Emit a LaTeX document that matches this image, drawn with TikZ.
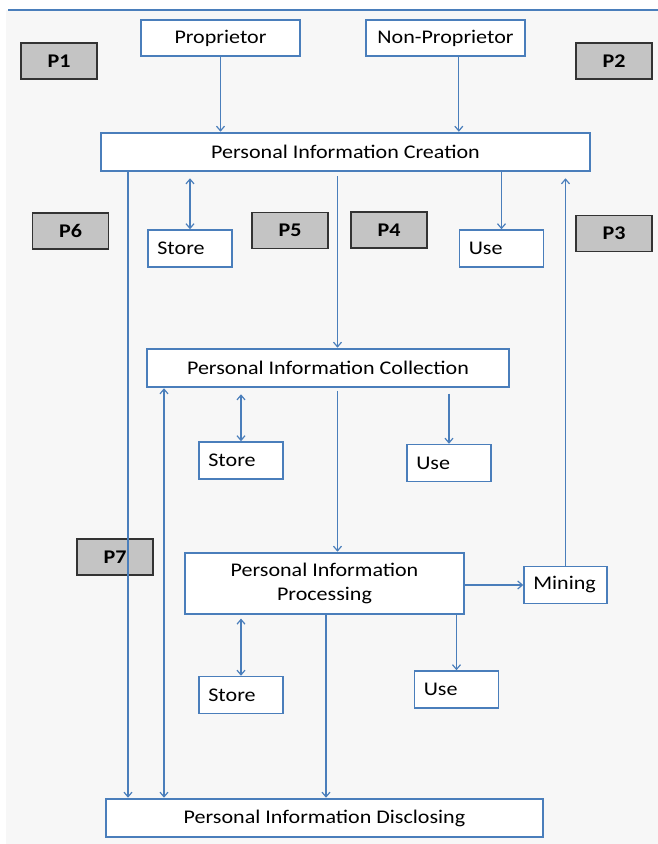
\documentclass[tikz,border=0pt]{standalone}
\usepackage{fontspec}
\setmainfont{Carlito}[FakeStretch=1.14]
\usetikzlibrary{arrows.meta}
\definecolor{lineblue}{HTML}{4A7EBB}
\definecolor{pagegray}{HTML}{F7F7F7}
\definecolor{pfill}{HTML}{C4C4C4}
\tikzset{
  mainbox/.style={draw=lineblue,line width=1.9pt,fill=white,inner sep=0pt,align=center},
  topbox/.style={draw=lineblue,line width=1.1pt,fill=white,minimum width=119.25pt,minimum height=27pt,inner sep=0pt},
  smallbox/.style={draw=lineblue,line width=1.1pt,fill=white,minimum height=27.75pt,text width=49pt,align=left,inner xsep=7pt,inner ysep=0pt},
  pbox/.style={draw=black!80,line width=1.4pt,fill=pfill,minimum width=57pt,minimum height=27pt,inner sep=0pt,font=\fontsize{14.5}{17}\selectfont\bfseries},
  link/.style={draw=lineblue,line width=0.9pt,-{Straight Barb[length=3.5pt,width=6pt]}},
  dlink/.style={draw=lineblue,line width=0.9pt,{Straight Barb[length=3.5pt,width=6pt]}-{Straight Barb[length=3.5pt,width=6pt]}}
}
\begin{document}
\begin{tikzpicture}[x=0.75pt,y=-0.75pt,font=\fontsize{14.5}{17}\selectfont]
\useasboundingbox (0,0) rectangle (658,844);
\fill[pagegray] (6,10) rectangle (658,844);
\draw[lineblue,line width=1pt] (8,10) -- (658,10);
\node[topbox] (prop) at (220.5,38) {Proprietor};
\node[topbox] (nonprop) at (445.5,38) {Non-Proprietor};
\node[mainbox,minimum width=366.75pt,minimum height=28.5pt] (create) at (345.5,152) {Personal Information Creation};
\node[mainbox,minimum width=271.5pt,minimum height=28.5pt] (collect) at (328,368) {Personal Information Collection};
\node[mainbox,minimum width=209.25pt,minimum height=45.75pt,text depth=2pt,font=\fontsize{14.5}{18}\selectfont] (process) at (324.5,583.5) {Personal Information\\Processing};
\node[mainbox,minimum width=327.75pt,minimum height=28.5pt] (disclose) at (324.5,818) {Personal Information Disclosing};
\node[smallbox] (store1) at (190,248.5) {Store};
\node[smallbox] (use1) at (501.5,248.5) {Use};
\node[smallbox] (store2) at (241,460.5) {Store};
\node[smallbox] (use2) at (449,463) {Use};
\node[smallbox] (store3) at (241,695) {Store};
\node[smallbox] (use3) at (456.5,689.5) {Use};
\node[smallbox,text width=48.25pt] (mining) at (565.5,585) {Mining};
\node[pbox] (p1) at (59,61) {P1};
\node[pbox] (p2) at (614,61) {P2};
\node[pbox] (p3) at (614,233.5) {P3};
\node[pbox] (p4) at (389,230) {P4};
\node[pbox] (p5) at (290,230.5) {P5};
\node[pbox] (p6) at (70.5,231) {P6};
\node[pbox] (p7) at (115,557) {P7};
\coordinate (colA) at (128,0);
\coordinate (colB) at (164,0);
\coordinate (colD) at (337.5,0);
\coordinate (colE) at (326,0);
\draw[link] (prop) -- (prop |- create.north);
\draw[link] ([xshift=10pt]nonprop.south) -- ([xshift=10pt]nonprop.south |- create.north);
\draw[dlink,shorten <=4.5pt] (create.south -| store1) -- (store1);
\draw[link] (create.south -| use1) -- (use1);
\draw[link,shorten >=4.5pt] (mining) -- (mining |- create.south);
\draw[link] (create.south -| colA) -- (disclose.north -| colA);
\draw[link,shorten <=3pt] (create.south -| colD) -- (collect.north -| colD);
\draw[dlink] (collect.south -| colB) -- (disclose.north -| colB);
\draw[dlink,shorten <=4.5pt] (collect.south -| store2) -- (store2);
\draw[link,shorten <=4pt] (collect.south -| use2) -- (use2);
\draw[link,shorten <=2pt] (collect.south -| colD) -- (process.north -| colD);
\draw[link] (process.east |- mining) -- (mining);
\draw[dlink,shorten <=2.5pt] (process.south -| store3) -- (store3);
\draw[link] (process.south -| use3) -- (use3);
\draw[link] (process.south -| colE) -- (disclose.north -| colE);
\end{tikzpicture}
\end{document}
